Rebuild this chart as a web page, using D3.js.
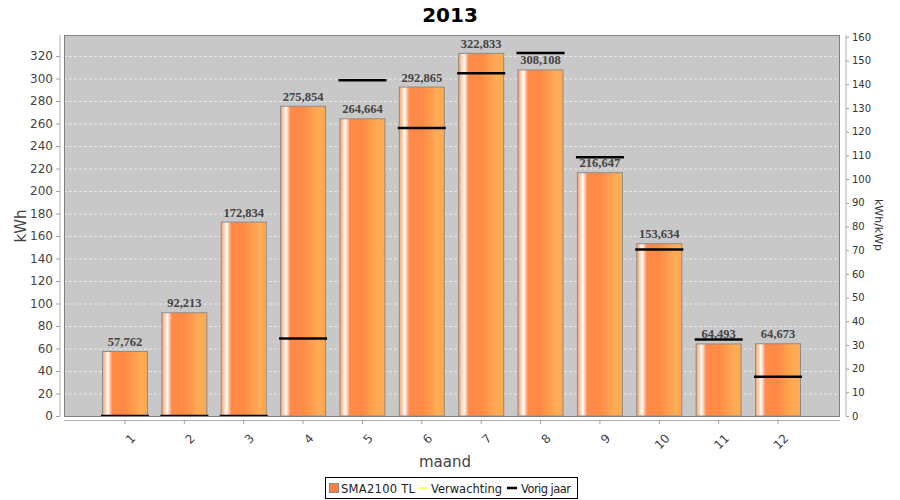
<!DOCTYPE html>
<html>
<head>
<meta charset="utf-8">
<script src="https://cdn.jsdelivr.net/npm/d3@7"></script>
<style>
  body { margin: 0; background: #fff; }
  text { font-family: "DejaVu Sans", sans-serif; }
</style>
</head>
<body>
<div id="chart"></div>
<script>
// data
var months = ["1","2","3","4","5","6","7","8","9","10","11","12"];
var opbrengst = [57.762, 92.213, 172.834, 275.854, 264.664, 292.865, 322.833, 308.108, 216.647, 153.634, 64.493, 64.673];
var vorigJaar = [0, 0, 0, 69, 298.5, 256, 304.6, 322.7, 230, 148, 68, 35];
var leftTicks = [0,20,40,60,80,100,120,140,160,180,200,220,240,260,280,300,320];
var rightTicks = [0,10,20,30,40,50,60,70,80,90,100,110,120,130,140,150,160];

var W = 900, H = 500;
var plot = { left: 64, right: 840, top: 35, bottom: 416 };

var svg = d3.select("#chart").append("svg")
  .attr("width", W).attr("height", H);

var defs = svg.append("defs");
var grad = defs.append("linearGradient").attr("id", "barGrad")
  .attr("x1", "0%").attr("x2", "100%").attr("y1", "0%").attr("y2", "0%");
grad.append("stop").attr("offset", "0%").attr("stop-color", "#ff9a5c");
grad.append("stop").attr("offset", "12%").attr("stop-color", "#ffffff");
grad.append("stop").attr("offset", "22%").attr("stop-color", "#ff8a4a");
grad.append("stop").attr("offset", "50%").attr("stop-color", "#ff8a45");
grad.append("stop").attr("offset", "85%").attr("stop-color", "#ffad55");
grad.append("stop").attr("offset", "100%").attr("stop-color", "#ffa850");

defs.append("clipPath").attr("id", "plotClip").append("rect")
  .attr("x", plot.left).attr("y", plot.top)
  .attr("width", plot.right - plot.left).attr("height", plot.bottom - plot.top);

var x = d3.scaleBand().domain(months).range([95.3, 807.7]).paddingInner(0.225).paddingOuter(0.1125);
var y = d3.scaleLinear().domain([0, 338.7]).range([plot.bottom, plot.top]);
var y2 = d3.scaleLinear().domain([0, 160.8]).range([plot.bottom, plot.top]);

// title
svg.append("text").attr("x", 450).attr("y", 22).attr("text-anchor", "middle")
  .style("font-size", "20px").style("font-weight", "bold").text("2013");

// plot background
svg.append("rect").attr("x", plot.left).attr("y", plot.top)
  .attr("width", plot.right - plot.left).attr("height", plot.bottom - plot.top)
  .attr("fill", "#c8c8c8");

// gridlines
svg.append("g").selectAll("line").data(leftTicks.slice(1)).enter().append("line")
  .attr("x1", plot.left).attr("x2", plot.right)
  .attr("y1", function(d) { return y(d) + 0.5; }).attr("y2", function(d) { return y(d) + 0.5; })
  .attr("stroke", "#ffffff").attr("stroke-width", 0.6).attr("stroke-dasharray", "3,2");

// bars
svg.append("g").selectAll("rect").data(opbrengst).enter().append("rect")
  .attr("x", function(d, i) { return x(months[i]) + 0.5; })
  .attr("y", function(d) { return y(d) + 0.5; })
  .attr("width", x.bandwidth() - 1)
  .attr("height", function(d) { return plot.bottom - y(d) - 0.5; })
  .attr("fill", "url(#barGrad)")
  .attr("stroke", "#8c8c8c").attr("stroke-width", 1);

// value labels
svg.append("g").selectAll("text").data(opbrengst).enter().append("text")
  .attr("x", function(d, i) { return x(months[i]) + x.bandwidth() / 2; })
  .attr("y", function(d) { return y(d) - 5; })
  .attr("text-anchor", "middle")
  .style("font-family", "'Liberation Serif', 'DejaVu Serif', serif")
  .style("font-size", "12.5px").style("font-weight", "bold").attr("fill", "#444")
  .text(function(d) { return d3.format(".3f")(d).replace(".", ","); });

// vorig jaar
svg.append("g").attr("clip-path", "url(#plotClip)")
  .selectAll("line").data(vorigJaar).enter().append("line")
  .attr("x1", function(d, i) { return x(months[i]) - 1; })
  .attr("x2", function(d, i) { return x(months[i]) + x.bandwidth() + 1; })
  .attr("y1", function(d) { return y(d); })
  .attr("y2", function(d) { return y(d); })
  .attr("stroke", "#000").attr("stroke-width", 2.5);

// plot border
svg.append("rect").attr("x", plot.left + 0.5).attr("y", plot.top + 0.5)
  .attr("width", plot.right - plot.left - 1).attr("height", plot.bottom - plot.top)
  .attr("fill", "none").attr("stroke", "#808080").attr("stroke-width", 1);

// left axis
var gl = svg.append("g").attr("transform", "translate(60,0)")
  .call(d3.axisLeft(y).tickValues(leftTicks).tickSize(4).tickPadding(3));
gl.select(".domain").attr("stroke", "#b0b0b0").attr("d", "M0," + plot.top + "V" + plot.bottom);
gl.selectAll(".tick line").attr("stroke", "#a0a0a0");
gl.selectAll("text").style("font-size", "12px").attr("fill", "#444");

// right axis
var gr = svg.append("g").attr("transform", "translate(846,0)")
  .call(d3.axisRight(y2).tickValues(rightTicks).tickSize(3).tickPadding(3));
gr.select(".domain").attr("stroke", "#b0b0b0").attr("d", "M0," + plot.top + "V" + plot.bottom);
gr.selectAll(".tick line").attr("stroke", "#a0a0a0");
gr.selectAll("text").style("font-size", "10px").attr("fill", "#333");

// bottom axis
var gb = svg.append("g").attr("transform", "translate(0,420)")
  .call(d3.axisBottom(x).tickSize(4).tickPadding(2));
gb.select(".domain").attr("stroke", "#b0b0b0").attr("d", "M" + plot.left + ",0.5H" + plot.right);
gb.selectAll(".tick line").attr("stroke", "#a0a0a0");
gb.selectAll("text").style("font-size", "12px").attr("fill", "#444")
  .attr("text-anchor", "end").attr("dy", "0.35em")
  .attr("transform", "translate(4,12) rotate(-45)");

// axis labels
svg.append("text").attr("transform", "translate(26,226) rotate(-90)")
  .attr("text-anchor", "middle").style("font-size", "15px").attr("fill", "#444").text("kWh");
svg.append("text").attr("transform", "translate(875,225) rotate(90)")
  .attr("text-anchor", "middle").style("font-size", "11px").attr("fill", "#333").text("kWh/kWp");
svg.append("text").attr("x", 445).attr("y", 467)
  .attr("text-anchor", "middle").style("font-size", "15px").attr("fill", "#444").text("maand");

// legend
var lg = svg.append("g").attr("transform", "translate(325,477)");
lg.append("rect").attr("x", 0.5).attr("y", 0.5).attr("width", 252).attr("height", 21)
  .attr("fill", "#fff").attr("stroke", "#000");
lg.append("rect").attr("x", 4.5).attr("y", 6.5).attr("width", 9).attr("height", 9)
  .attr("fill", "#ff8040").attr("stroke", "#888");
lg.append("text").attr("x", 16).attr("y", 15.5).style("font-size", "11.5px").attr("fill", "#222")
  .attr("textLength", 74).text("SMA2100 TL");
lg.append("line").attr("x1", 93).attr("x2", 103).attr("y1", 11).attr("y2", 11)
  .attr("stroke", "#ffff66").attr("stroke-width", 2);
lg.append("text").attr("x", 106).attr("y", 15.5).style("font-size", "11.5px").attr("fill", "#222")
  .attr("textLength", 71).text("Verwachting");
lg.append("line").attr("x1", 182).attr("x2", 192).attr("y1", 11).attr("y2", 11)
  .attr("stroke", "#000").attr("stroke-width", 2.5);
lg.append("text").attr("x", 196).attr("y", 15.5).style("font-size", "11.5px").attr("fill", "#222")
  .attr("textLength", 50).text("Vorig jaar");
</script>
</body>
</html>
